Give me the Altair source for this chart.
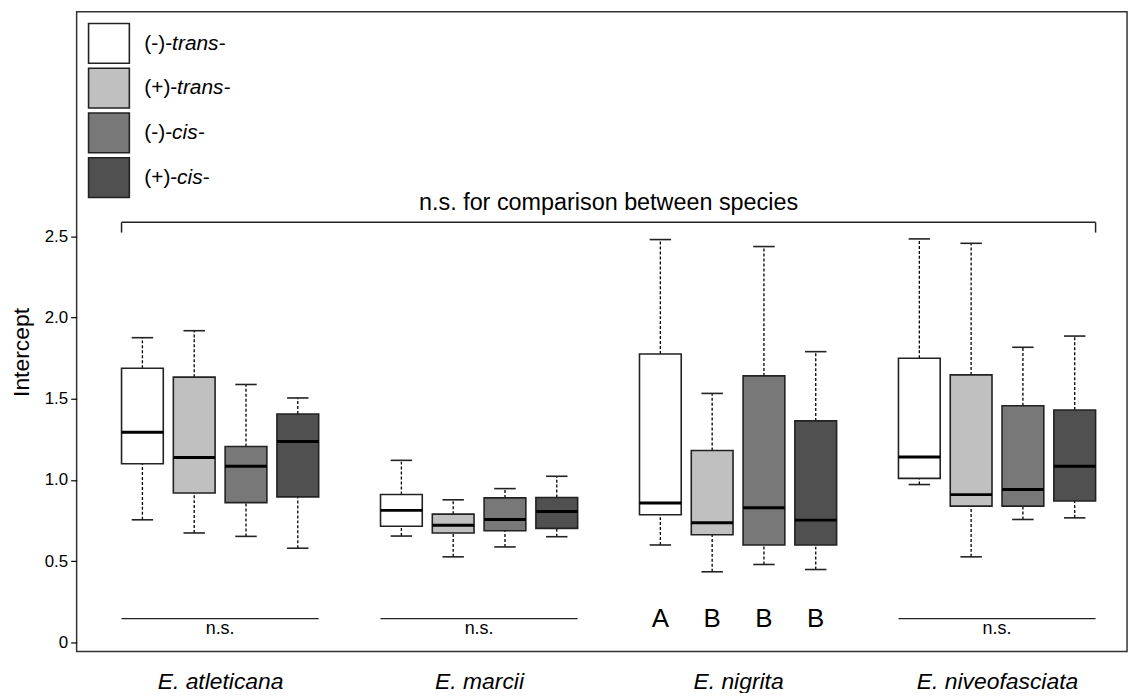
import altair as alt
import pandas as pd
import json

# ---------------- data ----------------
species = ["E. atleticana", "E. marcii", "E. nigrita", "E. niveofasciata"]
treatments = ["(-)-trans-", "(+)-trans-", "(-)-cis-", "(+)-cis-"]
prefixes = ["(-)-", "(+)-", "(-)-", "(+)-"]
suffixes = ["trans-", "trans-", "cis-", "cis-"]
colors = ["#FFFFFF", "#C0C0C0", "#787878", "#505050"]

# order: species-major, treatment-minor
whisker_low = [0.755, 0.674, 0.653, 0.580,
               0.655, 0.527, 0.588, 0.651,
               0.600, 0.435, 0.480, 0.449,
               0.972, 0.527, 0.757, 0.767]
q1 = [1.100, 0.920, 0.861, 0.896,
      0.715, 0.674, 0.688, 0.702,
      0.786, 0.663, 0.600, 0.600,
      1.010, 0.839, 0.839, 0.871]
median = [1.294, 1.139, 1.084, 1.237,
          0.813, 0.721, 0.757, 0.806,
          0.859, 0.737, 0.829, 0.753,
          1.141, 0.910, 0.941, 1.084]
q3 = [1.688, 1.633, 1.206, 1.406,
      0.911, 0.790, 0.890, 0.892,
      1.776, 1.182, 1.641, 1.364,
      1.749, 1.647, 1.457, 1.431]
whisker_high = [1.876, 1.919, 1.588, 1.505,
                1.121, 0.878, 0.947, 1.023,
                2.480, 1.533, 2.437, 1.790,
                2.484, 2.457, 1.817, 1.886]

within_species = ["n.s.", "n.s.", "", "n.s."]
nigrita_letters = ["A", "B", "B", "B"]
between_label = "n.s. for comparison between species"
y_ticks = [0, 0.5, 1.0, 1.5, 2.0, 2.5]

# annotation levels (data units)
sig_level = 0.147
ns_text_level = 0.081
bracket_level = 2.586
bracket_drop = 2.523
bracket_text_level = 2.704

# ---------------- layout helpers ----------------
GROUP_STEP = 5
BOX_HALF = 0.403
CAP_HALF = 0.207

rows = []
for si, sp in enumerate(species):
    for ti, tr in enumerate(treatments):
        i = si * 4 + ti
        pos = si * GROUP_STEP + ti
        rows.append(dict(species=sp, treatment=tr, pos=pos,
                         boxL=pos - BOX_HALF, boxR=pos + BOX_HALF,
                         capL=pos - CAP_HALF, capR=pos + CAP_HALF,
                         lo=whisker_low[i], q1=q1[i], med=median[i],
                         q3=q3[i], hi=whisker_high[i]))
df = pd.DataFrame(rows)

ann_rows = []
for si, lab in enumerate(within_species):
    if lab:
        ann_rows.append(dict(x1=si * GROUP_STEP - BOX_HALF, x2=si * GROUP_STEP + 3 + BOX_HALF,
                             xc=si * GROUP_STEP + 1.5, label=lab, y=sig_level, ty=ns_text_level))
ann = pd.DataFrame(ann_rows)

letters = pd.DataFrame(dict(pos=[2 * GROUP_STEP + k for k in range(4)],
                            label=nigrita_letters, y=[sig_level] * 4))

bracket_h = pd.DataFrame(dict(x1=[-BOX_HALF], x2=[3 * GROUP_STEP + 3 + BOX_HALF], y=[bracket_level]))
bracket_v = pd.DataFrame(dict(x=[-BOX_HALF, 3 * GROUP_STEP + 3 + BOX_HALF],
                              y1=[bracket_level] * 2, y2=[bracket_drop] * 2))
bracket_t = pd.DataFrame(dict(x=[(3 * GROUP_STEP + 3) / 2], y=[bracket_text_level], label=[between_label]))

FONT = "Liberation Sans"
W, H = 1056, 643
xscale = alt.Scale(domain=[-1.27, 19.01], nice=False, zero=False)
yscale = alt.Scale(domain=[-0.055, 3.882], nice=False, zero=False)

centers = [si * GROUP_STEP + 1.5 for si in range(len(species))]
label_js = json.dumps(species)
xaxis = alt.Axis(values=centers, labelExpr=f"{label_js}[round((datum.value - 1.5) / {GROUP_STEP})]",
                 tickSize=0, domain=False, grid=False, title=None,
                 labelFont=FONT, labelFontSize=23, labelFontStyle="italic",
                 labelColor="black", labelPadding=19)
yaxis = alt.Axis(values=y_ticks,
                 labelExpr="datum.value == 0 ? '0' : format(datum.value, '.1f')",
                 tickSize=6, tickColor="black", tickWidth=1.2, domain=False, grid=False,
                 labelFont=FONT, labelFontSize=17, labelColor="black", labelPadding=3,
                 title="Intercept", titleFont=FONT, titleFontSize=23, titleFontWeight="normal",
                 titleColor="black", titleX=-48, titleY=342, titleAlign="center",
                 titleBaseline="alphabetic")

X = lambda f: alt.X(f, type="quantitative", scale=xscale, axis=xaxis)
Y = lambda f: alt.Y(f, type="quantitative", scale=yscale, axis=yaxis)
fill = alt.Fill("treatment:N", scale=alt.Scale(domain=treatments, range=colors), legend=None)

base = alt.Chart(df)
whisk_up = base.mark_rule(strokeDash=[3, 2], color="black", strokeWidth=1.3).encode(
    x=X("pos"), y=Y("q3"), y2="hi")
whisk_lo = base.mark_rule(strokeDash=[3, 2], color="black", strokeWidth=1.3).encode(
    x=X("pos"), y=Y("lo"), y2="q1")
cap_hi = base.mark_rule(color="#222", strokeWidth=1.6).encode(x=X("capL"), x2="capR", y=Y("hi"))
cap_lo = base.mark_rule(color="#222", strokeWidth=1.6).encode(x=X("capL"), x2="capR", y=Y("lo"))
boxes = base.mark_rect(stroke="#222", strokeWidth=1.6).encode(
    x=X("boxL"), x2="boxR", y=Y("q1"), y2="q3", fill=fill)
medians = base.mark_rule(color="black", strokeWidth=3).encode(x=X("boxL"), x2="boxR", y=Y("med"))

ann_lines = alt.Chart(ann).mark_rule(color="#222", strokeWidth=1.4).encode(
    x=X("x1"), x2="x2", y=Y("y"))
ann_text = alt.Chart(ann).mark_text(font=FONT, fontSize=18, color="black", baseline="middle").encode(
    x=X("xc"), y=Y("ty"), text="label")
letter_text = alt.Chart(letters).mark_text(font=FONT, fontSize=26, color="black", baseline="middle").encode(
    x=X("pos"), y=Y("y"), text="label")
br_h = alt.Chart(bracket_h).mark_rule(color="#222", strokeWidth=1.5).encode(x=X("x1"), x2="x2", y=Y("y"))
br_v = alt.Chart(bracket_v).mark_rule(color="#222", strokeWidth=1.5).encode(x=X("x"), y=Y("y1"), y2="y2")
br_t = alt.Chart(bracket_t).mark_text(font=FONT, fontSize=23.5, color="black", baseline="middle").encode(
    x=X("x"), y=Y("y"), text="label")

main = alt.layer(whisk_up, whisk_lo, cap_hi, cap_lo, boxes, medians,
                 ann_lines, ann_text, letter_text, br_h, br_v, br_t)

# ---------------- custom legend (pixel positions) ----------------
leg = pd.DataFrame(dict(treatment=treatments, prefix=prefixes, suffix=suffixes, idx=list(range(4))))
lbase = alt.Chart(leg).transform_calculate(
    top="11.7 + 45 * datum.idx", bot="51.7 + 45 * datum.idx", mid="32 + 45 * datum.idx",
    sx="68 + (datum.prefix == '(+)-' ? 33 : 28)")
leg_sq = lbase.mark_rect(stroke="#222", strokeWidth=1.6).encode(
    x=alt.value(12), x2=alt.value(53),
    y=alt.Y("top:Q", scale=None, axis=None), y2="bot:Q",
    fill=fill)
leg_pre = lbase.mark_text(font=FONT, fontSize=21, align="left", baseline="middle", color="black").encode(
    x=alt.value(68), y=alt.Y("mid:Q", scale=None, axis=None), text="prefix:N")
leg_suf = lbase.mark_text(font=FONT, fontSize=21, align="left", baseline="middle", color="black",
                          fontStyle="italic").encode(
    x=alt.X("sx:Q", scale=None, axis=None), y=alt.Y("mid:Q", scale=None, axis=None), text="suffix:N")
legend = alt.layer(leg_sq, leg_pre, leg_suf)

chart = alt.layer(main, legend).resolve_scale(x="independent", y="independent").properties(
    width=W, height=H,
    background="white",
    autosize=alt.AutoSizeParams(type="none"),
    padding={"left": 69, "top": 2, "right": 5, "bottom": 40},
).configure_view(stroke="#333", strokeWidth=1.5)

chart.save("out.html", embed_options={"renderer": "svg", "actions": False})
